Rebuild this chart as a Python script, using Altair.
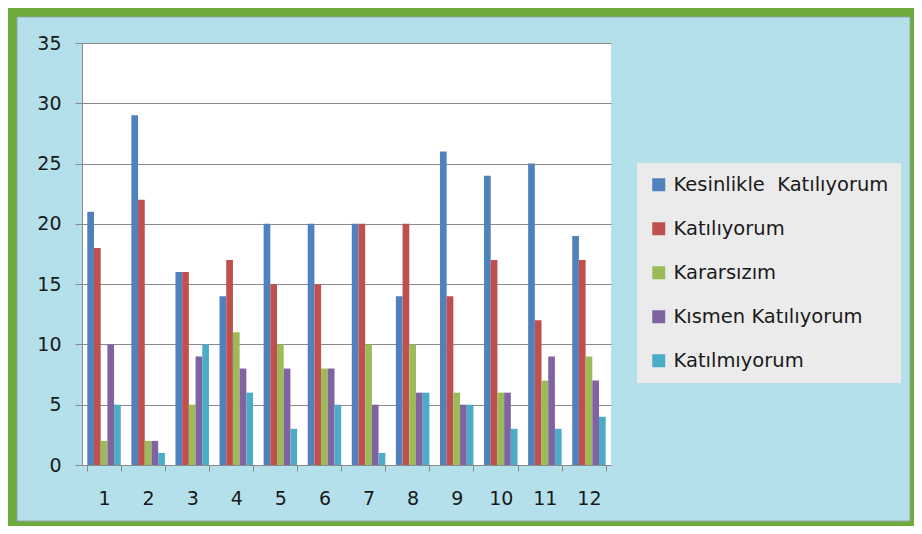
import altair as alt
import pandas as pd

groups = ["1", "2", "3", "4", "5", "6", "7", "8", "9", "10", "11", "12"]
series_names = ["Kesinlikle  Katılıyorum", "Katılıyorum", "Kararsızım",
                "Kısmen Katılıyorum", "Katılmıyorum"]
kesinlikle = [21, 29, 16, 14, 20, 20, 20, 14, 26, 24, 25, 19]
katiliyorum = [18, 22, 16, 17, 15, 15, 20, 20, 14, 17, 12, 17]
kararsizim = [2, 2, 5, 11, 10, 8, 10, 10, 6, 6, 7, 9]
kismen = [10, 2, 9, 8, 8, 8, 5, 6, 5, 6, 9, 7]
katilmiyorum = [5, 1, 10, 6, 3, 5, 1, 6, 5, 3, 3, 4]
colors = ["#4F81BD", "#C0504D", "#9BBB59", "#8064A2", "#4BACC6"]
y_ticks = [0, 5, 10, 15, 20, 25, 30, 35]

rows = []
for s, vals in zip(series_names, [kesinlikle, katiliyorum, kararsizim, kismen, katilmiyorum]):
    for g, v in zip(groups, vals):
        rows.append({"grup": g, "seri": s, "deger": v})
df = pd.DataFrame(rows)

W, H = 529, 422
GRAY = "#8a8a8a"
FONT = "DejaVu Sans"
NBSP = "\u00a0"

frame_df = pd.DataFrame({"k": [0]})
green_frame = alt.Chart(frame_df).mark_rect(
    fillOpacity=0, stroke="#6caa3c", strokeWidth=18
).encode(
    x=alt.value(-74), x2=alt.value(837), y=alt.value(-35), y2=alt.value(487)
)
inner_line = alt.Chart(frame_df).mark_rect(
    fillOpacity=0, stroke="#8fa5ab", strokeWidth=1
).encode(
    x=alt.value(-65), x2=alt.value(828), y=alt.value(-26), y2=alt.value(478)
)

bars = alt.Chart(df).mark_bar().encode(
    x=alt.X(
        "grup:N", sort=groups, title=None,
        scale=alt.Scale(paddingInner=0.24, paddingOuter=0.12),
        axis=alt.Axis(labelAngle=0, tickBand="extent", tickSize=6, tickColor=GRAY,
                      domainColor=GRAY, labelPadding=18, labelFontSize=19,
                      labelFont=FONT, labelColor="#1a1a1a", grid=False),
    ),
    xOffset=alt.XOffset("seri:N", sort=series_names,
                        scale=alt.Scale(paddingInner=0, paddingOuter=0)),
    y=alt.Y(
        "deger:Q", title=None,
        scale=alt.Scale(domain=[0, 35], nice=False),
        axis=alt.Axis(values=y_ticks, tickSize=7, tickColor=GRAY, domainColor=GRAY,
                      gridColor=GRAY, labelPadding=14, labelFontSize=19,
                      labelFont=FONT, labelColor="#1a1a1a"),
    ),
    color=alt.Color(
        "seri:N", sort=series_names,
        scale=alt.Scale(domain=series_names, range=colors),
        legend=alt.Legend(title=None, orient="none", legendX=555, legendY=120,
                          direction="vertical", fillColor="#ebebeb", padding=12,
                          rowPadding=23, symbolType="square", symbolSize=169,
                          symbolStrokeWidth=0, labelFontSize=19.5, labelFont=FONT,
                          labelColor="#1a1a1a", labelOffset=5, labelLimit=400,
                          labelExpr=f"replace(datum.label, '  ', ' {NBSP}')"),
    ),
)

chart = alt.layer(green_frame, inner_line, bars).properties(
    width=W, height=H, background="#b4e0eb",
    padding={"left": 74, "top": 35, "right": 303, "bottom": 61},
    autosize=alt.AutoSizeParams(type="none"),
).configure_view(fill="white", strokeWidth=0)

chart.save("out.html", embed_options={"renderer": "svg", "actions": False})
